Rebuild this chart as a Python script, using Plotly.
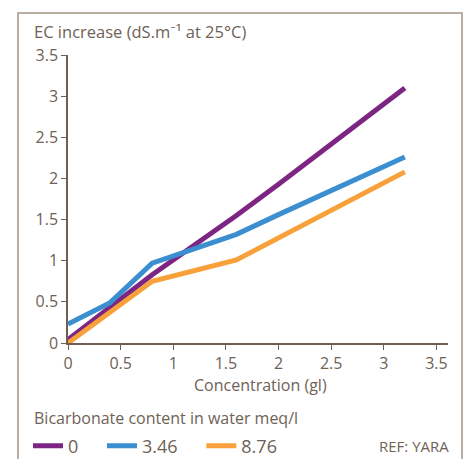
import plotly.graph_objects as go

concentration = [0, 0.4, 0.8, 1.6, 2.0, 3.2]
ec_0 = [0.04, 0.43, 0.83, 1.55, 1.93, 3.10]
ec_346 = [0.23, 0.49, 0.97, 1.32, 1.56, 2.26]
ec_876 = [0.0, 0.38, 0.75, 1.01, 1.28, 2.08]
series_names = ["0", "3.46", "8.76"]
series_colors = ["#7d2582", "#3b8fd0", "#f8a03a"]
x_ticks = [0, 0.5, 1, 1.5, 2, 2.5, 3, 3.5]
y_ticks = [0, 0.5, 1, 1.5, 2, 2.5, 3, 3.5]

TXT = "#6e6256"
FONT = "Open Sans, Lato, sans-serif"
PAD = "\u00a0" * 4

fig = go.Figure()
for name, vals, col in zip(series_names, [ec_0, ec_346, ec_876], series_colors):
    fig.add_trace(go.Scatter(x=concentration, y=vals, mode="lines", name=name + PAD,
                             line=dict(color=col, width=5)))

W, H = 468, 459
ml, mr, mt, mb = 68, 20, 55, 116
pw, ph = W - ml - mr, H - mt - mb

def px(x):
    return (x - ml) / pw

def py(y):
    return (H - mb - y) / ph

fig.update_layout(
    width=W, height=H,
    margin=dict(l=ml, r=mr, t=mt, b=mb, autoexpand=False),
    paper_bgcolor="white", plot_bgcolor="white",
    font=dict(family=FONT, size=16, color=TXT),
    showlegend=True,
    legend=dict(orientation="h", x=px(28), xanchor="left", y=py(446), yanchor="middle",
                font=dict(size=18, color=TXT), bgcolor="rgba(0,0,0,0)",
                itemwidth=30, tracegroupgap=0),
    xaxis=dict(range=[0, 3.61], tickvals=x_ticks, ticktext=[f"{v:g}" for v in x_ticks],
               showgrid=False, zeroline=False, showline=True, linecolor="#6e5f52", linewidth=2,
               ticks="outside", ticklen=5, tickcolor="#6e5f52", tickfont=dict(size=16, color=TXT)),
    yaxis=dict(range=[0, 3.5], tickvals=y_ticks, ticktext=[f"{v:g}" for v in y_ticks],
               showgrid=False, zeroline=False, showline=True, linecolor="#6e5f52", linewidth=1.5,
               ticks="outside", ticklen=5, tickcolor="#6e5f52", tickfont=dict(size=16, color=TXT)),
    shapes=[dict(type="rect", xref="paper", yref="paper",
                 x0=px(18), x1=px(462), y0=py(475), y1=py(13),
                 line=dict(color="#b8ada1", width=2), fillcolor="rgba(0,0,0,0)", layer="below")],
    annotations=[
        dict(text="EC increase (dS.m⁻¹ at 25°C)", xref="paper", yref="paper",
             x=px(32), y=py(32), xanchor="left", yanchor="middle", showarrow=False,
             font=dict(size=16.5, color=TXT)),
        dict(text="Concentration (gl)", xref="paper", yref="paper",
             x=px(260), y=py(385), xanchor="center", yanchor="middle", showarrow=False,
             font=dict(size=16, color=TXT)),
        dict(text="Bicarbonate content in water meq/l", xref="paper", yref="paper",
             x=px(32), y=py(418), xanchor="left", yanchor="middle", showarrow=False,
             font=dict(size=16, color=TXT)),
        dict(text="REF: YARA", xref="paper", yref="paper",
             x=px(451), y=py(446), xanchor="right", yanchor="middle", showarrow=False,
             font=dict(size=15, color=TXT)),
    ],
)

fig.write_html("out.html", config={"displayModeBar": False},
               post_script="document.body.style.margin='0px';")
